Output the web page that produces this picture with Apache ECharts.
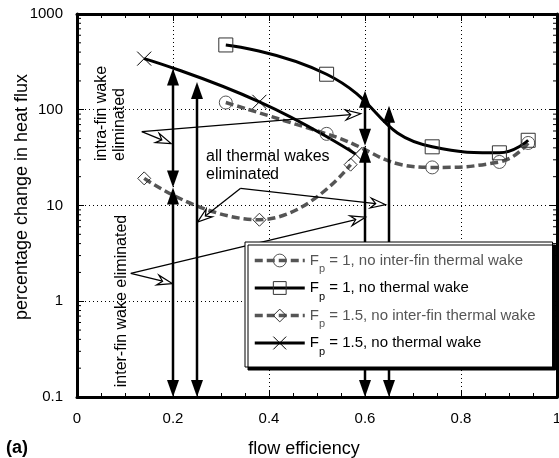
<!DOCTYPE html>
<html>
<head>
<meta charset="utf-8">
<script src="https://cdn.jsdelivr.net/npm/echarts@6/dist/echarts.min.js"></script>
<style>
  html, body { margin: 0; padding: 0; background: #fff; }
  #chart { width: 559px; height: 458px; }
</style>
</head>
<body>
<div id="chart"></div>
<script>
// Flow efficiency (x) and percentage change in heat flux (y) for each case
const fp1Efficiency = [0.31, 0.52, 0.74, 0.88, 0.94];
const fp1NoInterFinWake = [119, 56, 25, 28.5, 45];
const fp1NoThermalWake = [475, 235, 41, 35.5, 48];

const fp15EfficiencyInterFin = [0.14, 0.38, 0.57];
const fp15NoInterFinWake = [19.2, 7.1, 26.7];
const fp15EfficiencyThermal = [0.14, 0.38, 0.58];
const fp15NoThermalWake = [342, 121, 34.5];

const seriesNames = [
  'Fp = 1, no inter-fin thermal wake',
  'Fp = 1, no thermal wake',
  'Fp = 1.5, no inter-fin thermal wake',
  'Fp = 1.5, no thermal wake'
];

const xTickLabels = ['0', '0.2', '0.4', '0.6', '0.8', '1'];
const yTickLabels = ['0.1', '1', '10', '100', '1000'];
const yDecades = [0.1, 1, 10, 100];
const yMinorMultiples = [2, 3, 4, 5, 6, 7, 8, 9];

// Gain arrows: [flow efficiency, lower value, upper value]
const gainArrows = [
  [0.2, 15.4, 270],
  [0.2, 0.1, 15.4],
  [0.25, 0.1, 195],
  [0.6, 42, 158],
  [0.6, 0.1, 42],
  [0.65, 0.1, 110]
];

// Callout pointers: [x from, y from, x to, y to]
const calloutPointers = [
  [0.135, 59, 0.196, 44.3],
  [0.135, 59, 0.591, 90.9],
  [0.341, 15.1, 0.251, 6.7],
  [0.341, 15.1, 0.643, 10.2],
  [0.112, 1.95, 0.1985, 1.53],
  [0.112, 1.95, 0.601, 7.55]
];

const FONT = 'Liberation Sans, Arial, Helvetica, sans-serif';
const GREY = '#555';
const crossPath = 'path://M0,0L10,10M10,0L0,10';

const pairs = (xs, ys) => xs.map((x, i) => [x, ys[i]]);

const minorTickValues = [];
yDecades.forEach(d => yMinorMultiples.forEach(m => minorTickValues.push([0, d * m])));

function renderMinorTick(params, api) {
  const v = api.value(1);
  const l = api.coord([0, v]);
  const r = api.coord([1, v]);
  return {
    type: 'group',
    children: [
      { type: 'line', shape: { x1: l[0], y1: l[1], x2: l[0] + 4, y2: l[1] }, style: { stroke: '#000', lineWidth: 1 } },
      { type: 'line', shape: { x1: r[0] - 4, y1: r[1], x2: r[0], y2: r[1] }, style: { stroke: '#000', lineWidth: 1 } }
    ]
  };
}

function renderGainArrow(params, api) {
  const x = api.value(0);
  const lo = api.coord([x, api.value(1)]);
  const hi = api.coord([x, api.value(2)]);
  const L = 17, W = 6;
  return {
    type: 'group',
    children: [
      { type: 'line', shape: { x1: lo[0], y1: lo[1] - L + 2, x2: hi[0], y2: hi[1] + L - 2 }, style: { stroke: '#000', lineWidth: 2.5 } },
      { type: 'polygon', shape: { points: [[hi[0], hi[1]], [hi[0] - W, hi[1] + L], [hi[0] + W, hi[1] + L]] }, style: { fill: '#000' } },
      { type: 'polygon', shape: { points: [[lo[0], lo[1]], [lo[0] - W, lo[1] - L], [lo[0] + W, lo[1] - L]] }, style: { fill: '#000' } }
    ]
  };
}

function renderPointer(params, api) {
  const a = api.coord([api.value(0), api.value(1)]);
  const b = api.coord([api.value(2), api.value(3)]);
  const dx = b[0] - a[0], dy = b[1] - a[1];
  const len = Math.hypot(dx, dy);
  const ux = dx / len, uy = dy / len, nx = -uy, ny = ux;
  const L = 15, W = 5, N = 10;
  const back = [b[0] - ux * L, b[1] - uy * L];
  const notch = [b[0] - ux * N, b[1] - uy * N];
  return {
    type: 'group',
    children: [
      { type: 'line', shape: { x1: a[0], y1: a[1], x2: notch[0], y2: notch[1] }, style: { stroke: '#000', lineWidth: 1.3 } },
      { type: 'polygon', shape: { points: [b, [back[0] + nx * W, back[1] + ny * W], notch, [back[0] - nx * W, back[1] - ny * W]] },
        style: { fill: '#fff', stroke: '#000', lineWidth: 1.2 } }
    ]
  };
}

const seriesStyles = [
  { color: GREY, dash: [8, 4], symbol: 'circle', size: 13, mark: GREY, width: 3.5 },
  { color: '#000', dash: 'solid', symbol: 'rect', size: 14, mark: '#333', width: 3 },
  { color: GREY, dash: [8, 4], symbol: 'diamond', size: 13, mark: '#333', width: 3.5 },
  { color: '#000', dash: 'solid', symbol: crossPath, size: 14, mark: '#000', width: 3 }
];
const seriesData = [
  pairs(fp1Efficiency, fp1NoInterFinWake),
  pairs(fp1Efficiency, fp1NoThermalWake),
  pairs(fp15EfficiencyInterFin, fp15NoInterFinWake),
  pairs(fp15EfficiencyThermal, fp15NoThermalWake)
];

const lineSeries = seriesNames.map((name, i) => ({
  name,
  type: 'line',
  data: seriesData[i],
  smooth: 0.5,
  symbol: seriesStyles[i].symbol,
  symbolSize: seriesStyles[i].size,
  showSymbol: true,
  lineStyle: { color: seriesStyles[i].color, width: seriesStyles[i].width, type: seriesStyles[i].dash },
  itemStyle: { color: 'rgba(0,0,0,0)', borderColor: seriesStyles[i].mark, borderWidth: 1 },
  emphasis: { disabled: true },
  z: 2
}));

const legendRich = {};
[['g', GREY], ['b', '#000']].forEach(([k, c]) => {
  legendRich['F' + k] = { color: c, fontSize: 15, lineHeight: 28, fontFamily: FONT };
  legendRich['s' + k] = { color: c, fontSize: 11, verticalAlign: 'bottom', fontFamily: FONT };
  legendRich['t' + k] = { color: c, fontSize: 15, lineHeight: 28, fontFamily: FONT };
});

const chart = echarts.init(document.getElementById('chart'), null, { renderer: 'canvas' });

const axisText = { color: '#000', fontSize: 15, fontFamily: FONT };

chart.setOption({
  animation: false,
  backgroundColor: '#fff',
  grid: { left: 77, top: 14, width: 480, height: 383, containLabel: false, outerBoundsMode: 'none' },
  legend: {
    orient: 'vertical',
    left: 245,
    top: 242,
    padding: [11, 17, 10, 8],
    itemGap: 6,
    itemWidth: 50,
    itemHeight: 16,
    backgroundColor: '#fff',
    borderColor: '#000',
    borderWidth: 1,
    borderRadius: 0,
    shadowColor: '#000',
    shadowBlur: 0,
    shadowOffsetX: 3,
    shadowOffsetY: 3,
    selectedMode: false,
    z: 10,
    data: seriesNames.map((name, i) => ({
      name,
      itemStyle: { color: 'rgba(0,0,0,0)', borderColor: seriesStyles[i].mark, borderWidth: 1 },
      lineStyle: { color: seriesStyles[i].color, width: seriesStyles[i].width, type: seriesStyles[i].dash }
    })),
    formatter: name => {
      const k = seriesStyles[seriesNames.indexOf(name)].color === GREY ? 'g' : 'b';
      return `{F${k}|F}{s${k}|p}{t${k}|${name.slice(2)}}`;
    },
    textStyle: { fontFamily: FONT, fontSize: 15, rich: legendRich }
  },
  xAxis: [
    {
      type: 'value', min: 0, max: 1, interval: 0.2, position: 'bottom',
      axisLine: { show: true, onZero: false, lineStyle: { color: '#000', width: 3 } },
      axisTick: { show: true, inside: true, length: 7, lineStyle: { color: '#000', width: 1 } },
      minorTick: { show: true, splitNumber: 4, length: 4, lineStyle: { color: '#000', width: 1 } },
      axisLabel: { ...axisText, margin: 14, formatter: v => xTickLabels[Math.round(v * 5)] },
      splitLine: { show: true, lineStyle: { color: '#000', width: 1, type: [1, 3] } },
      name: 'flow efficiency', nameLocation: 'middle', nameGap: 43,
      nameTextStyle: { color: '#000', fontSize: 18, fontFamily: FONT, padding: [0, 26, 0, 0] }
    },
    {
      type: 'value', min: 0, max: 1, interval: 0.2, position: 'top',
      axisLine: { show: true, onZero: false, lineStyle: { color: '#000', width: 3 } },
      axisTick: { show: true, inside: true, length: 7, lineStyle: { color: '#000', width: 1 } },
      minorTick: { show: true, splitNumber: 4, length: 4, lineStyle: { color: '#000', width: 1 } },
      axisLabel: { show: false },
      splitLine: { show: false }
    }
  ],
  yAxis: [
    {
      type: 'log', logBase: 10, min: 0.1, max: 1000, position: 'left',
      axisLine: { show: true, onZero: false, lineStyle: { color: '#000', width: 3 } },
      axisTick: { show: true, inside: true, length: 7, lineStyle: { color: '#000', width: 1 } },
      axisLabel: { ...axisText, margin: 14, formatter: v => yTickLabels[Math.round(Math.log10(v)) + 1] },
      splitLine: { show: true, lineStyle: { color: '#000', width: 1, type: [1, 3] } },
      name: 'percentage change in heat flux', nameLocation: 'middle', nameGap: 46,
      nameMoveOverlap: false,
      nameTextStyle: { color: '#000', fontSize: 18, fontFamily: FONT, padding: [0, 0, 0, 17] }
    },
    {
      type: 'log', logBase: 10, min: 0.1, max: 1000, position: 'right',
      axisLine: { show: true, onZero: false, lineStyle: { color: '#000', width: 3 } },
      axisTick: { show: true, inside: true, length: 7, lineStyle: { color: '#000', width: 1 } },
      axisLabel: { show: false },
      splitLine: { show: false }
    }
  ],
  series: [
    ...lineSeries,
    {
      name: 'minor ticks', type: 'custom', coordinateSystem: 'cartesian2d',
      xAxisIndex: 0, yAxisIndex: 0, data: minorTickValues, renderItem: renderMinorTick,
      silent: true, clip: false, z: 1
    },
    {
      name: 'gains', type: 'custom', coordinateSystem: 'cartesian2d',
      xAxisIndex: 0, yAxisIndex: 0, data: gainArrows, renderItem: renderGainArrow,
      silent: true, clip: false, z: 3
    },
    {
      name: 'callouts', type: 'custom', coordinateSystem: 'cartesian2d',
      xAxisIndex: 0, yAxisIndex: 0, data: calloutPointers, renderItem: renderPointer,
      silent: true, clip: false, z: 3
    }
  ],
  graphic: [
    { type: 'text', x: 102, y: 161, rotation: Math.PI / 2, z: 5,
      style: { text: 'intra-fin wake', font: `16px ${FONT}`, fill: '#000', align: 'left', verticalAlign: 'middle' } },
    { type: 'text', x: 120, y: 161, rotation: Math.PI / 2, z: 5,
      style: { text: 'eliminated', font: `16px ${FONT}`, fill: '#000', align: 'left', verticalAlign: 'middle' } },
    { type: 'text', x: 122, y: 301, rotation: Math.PI / 2, z: 5,
      style: { text: 'inter-fin wake eliminated', font: `16px ${FONT}`, fill: '#000', align: 'center', verticalAlign: 'middle' } },
    { type: 'text', x: 206, y: 157, z: 5,
      style: { text: 'all thermal wakes', font: `16px ${FONT}`, fill: '#000', align: 'left', verticalAlign: 'middle' } },
    { type: 'text', x: 206, y: 175, z: 5,
      style: { text: 'eliminated', font: `16px ${FONT}`, fill: '#000', align: 'left', verticalAlign: 'middle' } },
    { type: 'text', x: 6, y: 448, z: 5,
      style: { text: '(a)', font: `bold 18px ${FONT}`, fill: '#000', align: 'left', verticalAlign: 'middle' } }
  ]
});
</script>
</body>
</html>
